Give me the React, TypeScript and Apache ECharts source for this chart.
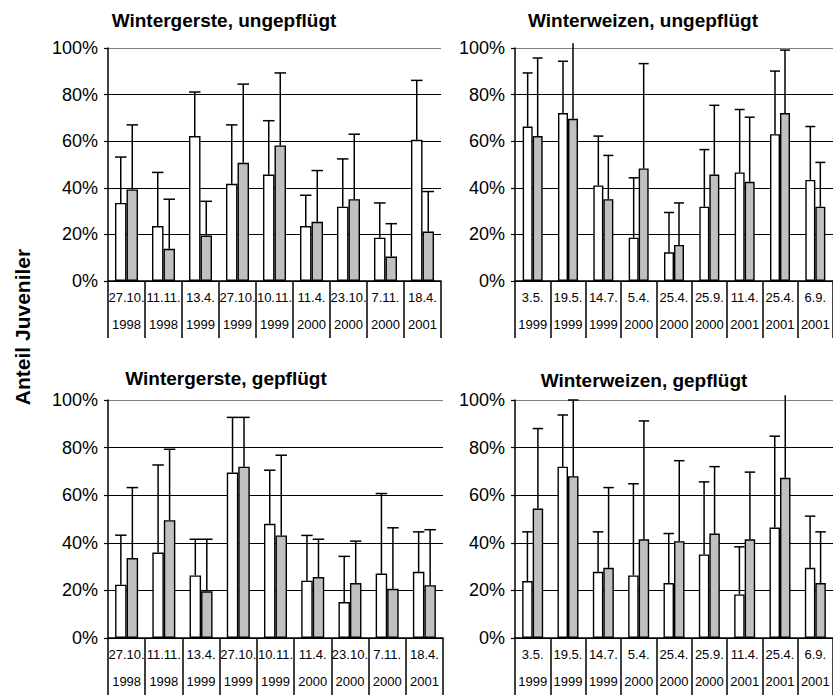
import React, { useEffect, useRef } from "react";
import * as echarts from "echarts";

const CATS_GERSTE = ["27.10.\n1998", "11.11.\n1998", "13.4.\n1999", "27.10.\n1999", "10.11.\n1999", "11.4.\n2000", "23.10.\n2000", "7.11.\n2000", "18.4.\n2001"];
const CATS_WEIZEN = ["3.5.\n1999", "19.5.\n1999", "14.7.\n1999", "5.4.\n2000", "25.4.\n2000", "25.9.\n2000", "11.4.\n2001", "25.4.\n2001", "6.9.\n2001"];
const Y_TICKS = [0, 20, 40, 60, 80, 100];

// Wintergerste, ungepflügt
const WGU_WHITE = [33.5, 23.6, 62.2, 41.7, 45.7, 23.6, 31.9, 18.6, 60.6];
const WGU_WHITE_ERR = [53.2, 46.6, 81.1, 67.0, 68.8, 36.8, 52.4, 33.5, 86.1];
const WGU_GRAY = [39.3, 13.8, 19.5, 50.7, 58.2, 25.4, 35.1, 10.5, 21.2];
const WGU_GRAY_ERR = [67.0, 35.1, 34.2, 84.5, 89.3, 47.4, 63.0, 24.6, 38.4];

// Winterweizen, ungepflügt
const WWU_WHITE = [66.3, 72.1, 41.0, 18.6, 12.3, 31.9, 46.6, 63.0, 43.4];
const WWU_WHITE_ERR = [89.3, 94.3, 62.2, 44.3, 29.4, 56.4, 73.6, 90.1, 66.3];
const WWU_GRAY = [62.2, 69.6, 35.1, 48.3, 15.5, 45.7, 42.6, 72.1, 31.9];
const WWU_GRAY_ERR = [95.7, 106.0, 53.9, 93.3, 33.5, 75.4, 70.3, 99.1, 50.9];

// Wintergerste, gepflügt
const WGG_WHITE = [22.4, 35.9, 26.3, 69.5, 48.0, 24.1, 15.1, 27.1, 27.8];
const WGG_WHITE_ERR = [43.2, 72.7, 41.5, 92.7, 70.5, 43.1, 34.3, 60.7, 44.6];
const WGG_GRAY = [33.6, 49.5, 19.6, 72.0, 43.1, 25.6, 23.1, 20.7, 22.2];
const WGG_GRAY_ERR = [63.2, 79.3, 41.5, 92.7, 76.8, 41.5, 40.7, 46.3, 45.5];

// Winterweizen, gepflügt
const WWG_WHITE = [23.9, 72.0, 27.8, 26.3, 23.1, 35.1, 18.3, 46.4, 29.5];
const WWG_WHITE_ERR = [44.6, 93.7, 44.6, 64.8, 43.9, 65.6, 38.3, 84.8, 51.2];
const WWG_GRAY = [54.4, 68.0, 29.5, 41.5, 40.7, 43.9, 41.5, 67.3, 23.1];
const WWG_GRAY_ERR = [88.0, 100.0, 63.2, 91.2, 74.5, 72.0, 69.7, 106.0, 44.6];

const TITLES = ["Wintergerste, ungepflügt", "Winterweizen, ungepflügt", "Wintergerste, gepflügt", "Winterweizen, gepflügt"];
const Y_NAME = "Anteil Juveniler";

const FONT = "'Liberation Sans', Arial, sans-serif";
const CLIP = 102;

const PANELS = [
  { cats: CATS_GERSTE, white: WGU_WHITE, whiteErr: WGU_WHITE_ERR, gray: WGU_GRAY, grayErr: WGU_GRAY_ERR, grid: { left: 108, top: 48, width: 333, height: 233 }, bw: 11.5, title: { x: 224, y: 20 } },
  { cats: CATS_WEIZEN, white: WWU_WHITE, whiteErr: WWU_WHITE_ERR, gray: WWU_GRAY, grayErr: WWU_GRAY_ERR, grid: { left: 515, top: 48, width: 320, height: 233 }, bw: 10, title: { x: 643, y: 20 } },
  { cats: CATS_GERSTE, white: WGG_WHITE, whiteErr: WGG_WHITE_ERR, gray: WGG_GRAY, grayErr: WGG_GRAY_ERR, grid: { left: 108, top: 400, width: 335, height: 238 }, bw: 11.5, title: { x: 226, y: 378 } },
  { cats: CATS_WEIZEN, white: WWG_WHITE, whiteErr: WWG_WHITE_ERR, gray: WWG_GRAY, grayErr: WWG_GRAY_ERR, grid: { left: 515, top: 400, width: 320, height: 238 }, bw: 10.5, title: { x: 644, y: 380 } },
];

function errSeries(g: number, side: number, vals: number[], tops: number[], bw: number) {
  return {
    type: "custom",
    xAxisIndex: g,
    yAxisIndex: g,
    z: 5,
    clip: false,
    encode: { x: 0, y: [1, 2] },
    data: vals.map((v, i) => [i, v, tops[i]]),
    renderItem: (params: any, api: any) => {
      const i = api.value(0);
      const v = api.value(1);
      const e = api.value(2);
      const off = side === 0 ? -bw / 2 : bw / 2;
      const base = api.coord([i, v]);
      const top = api.coord([i, Math.min(e, CLIP)]);
      const x = base[0] + off;
      const children: any[] = [
        { type: "line", shape: { x1: x, y1: base[1], x2: x, y2: top[1] }, style: { stroke: "#000", lineWidth: 1.5 } },
      ];
      if (e <= CLIP) {
        children.push({ type: "line", shape: { x1: x - bw / 2, y1: top[1], x2: x + bw / 2, y2: top[1] }, style: { stroke: "#000", lineWidth: 1.5 } });
      }
      return { type: "group", children };
    },
  };
}

export default function App() {
  const ref = useRef<HTMLDivElement>(null);
  useEffect(() => {
    if (!ref.current) return;
    const chart = echarts.init(ref.current, undefined, { renderer: "svg" });
    const grids: any[] = [];
    const xAxes: any[] = [];
    const yAxes: any[] = [];
    const series: any[] = [];
    const graphics: any[] = [];
    PANELS.forEach((p, g) => {
      grids.push({ ...p.grid, containLabel: false });
      xAxes.push({
        type: "category",
        gridIndex: g,
        data: p.cats,
        boundaryGap: true,
        axisLine: { show: true, lineStyle: { color: "#000", width: 1.5 } },
        axisTick: { show: true, length: 57, interval: 0, lineStyle: { color: "#000", width: 1.5 } },
        axisLabel: { interval: 0, color: "#000", fontFamily: FONT, fontSize: 13, lineHeight: 27, margin: 3 },
        splitLine: { show: false },
      });
      yAxes.push({
        type: "value",
        gridIndex: g,
        min: 0,
        max: 100,
        interval: 20,
        axisLine: { show: true, lineStyle: { color: "#000", width: 1.5 } },
        axisTick: { show: true, length: 4, lineStyle: { color: "#000", width: 1.2 } },
        axisLabel: { color: "#000", fontFamily: FONT, fontSize: 18, margin: 10, formatter: (v: number) => v + "%" },
        splitLine: { show: true, lineStyle: { color: ["#000", "#000", "#000", "#000", "#000", "#808080"], width: 1.2 } },
      });
      series.push({
        type: "bar",
        xAxisIndex: g,
        yAxisIndex: g,
        data: p.white,
        barWidth: p.bw,
        barGap: "0%",
        itemStyle: { color: "#ffffff", borderColor: "#000", borderWidth: 1.4 },
      });
      series.push({
        type: "bar",
        xAxisIndex: g,
        yAxisIndex: g,
        data: p.gray,
        barWidth: p.bw,
        barGap: "0%",
        itemStyle: { color: "#c0c0c0", borderColor: "#000", borderWidth: 1.4 },
      });
      series.push(errSeries(g, 0, p.white, p.whiteErr, p.bw));
      series.push(errSeries(g, 1, p.gray, p.grayErr, p.bw));
      graphics.push({
        type: "text",
        x: p.title.x,
        y: p.title.y,
        style: { text: TITLES[g], fill: "#000", font: `bold 19px ${FONT}`, textAlign: "center", textVerticalAlign: "middle" },
      });
    });
    graphics.push({
      type: "text",
      x: 22,
      y: 327,
      rotation: Math.PI / 2,
      style: { text: Y_NAME, fill: "#000", font: `bold 21px ${FONT}`, textAlign: "center", textVerticalAlign: "middle" },
    });
    chart.setOption({
      animation: false,
      backgroundColor: "#ffffff",
      grid: grids,
      xAxis: xAxes,
      yAxis: yAxes,
      series,
      graphic: graphics,
    });
    return () => chart.dispose();
  }, []);
  return <div ref={ref} style={{ position: "absolute", left: 0, top: 0, width: 833, height: 695 }} />;
}
